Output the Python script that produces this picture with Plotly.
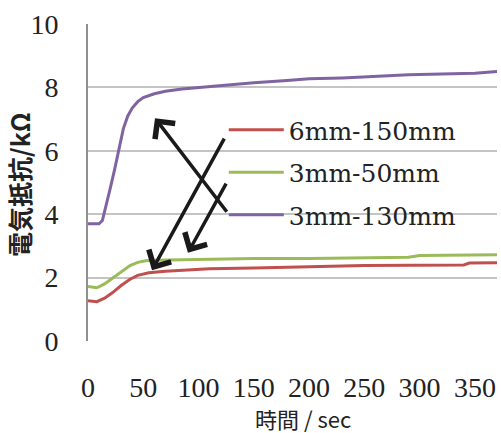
import plotly.graph_objects as go

# ---- data ----
t_red = [0, 8, 15, 22, 30, 38, 45, 55, 70, 90, 110, 150, 170, 250, 340, 345, 370]
v_red = [1.27, 1.24, 1.35, 1.52, 1.75, 1.95, 2.07, 2.15, 2.2, 2.24, 2.28, 2.3, 2.32, 2.38, 2.4, 2.46, 2.47]

t_green = [0, 8, 15, 22, 30, 38, 45, 52, 60, 100, 150, 200, 250, 290, 300, 340, 370]
v_green = [1.72, 1.68, 1.8, 1.98, 2.2, 2.38, 2.48, 2.53, 2.55, 2.57, 2.6, 2.6, 2.62, 2.64, 2.7, 2.71, 2.72]

t_purple = [0, 10, 13, 16, 20, 24, 28, 32, 36, 40, 45, 50, 60, 70, 85, 100, 120, 150, 180,
            200, 230, 260, 290, 320, 350, 370]
v_purple = [3.7, 3.7, 3.8, 4.2, 4.8, 5.4, 6.1, 6.7, 7.1, 7.35, 7.55, 7.68, 7.8, 7.88, 7.95,
            8.0, 8.07, 8.15, 8.22, 8.27, 8.3, 8.35, 8.4, 8.42, 8.45, 8.5]

series_names = ["6mm-150mm", "3mm-50mm", "3mm-130mm"]
series_colors = ["#C0504D", "#9BBB59", "#8064A2"]

x_ticks = [0, 50, 100, 150, 200, 250, 300, 350]
y_ticks = [0, 2, 4, 6, 8, 10]

# arrows: (head_t, head_v, tail_t, tail_v)
arrows = [
    (60.6, 7.03, 126.6, 4.03),
    (57.9, 2.23, 124.0, 6.43),
    (90.4, 2.78, 125.7, 5.01),
]

SERIF_TICK = "Times New Roman, Liberation Serif, Tinos, serif"
SERIF_LEG = "DejaVu Serif, serif"
CJK = "Noto Sans CJK JP, sans-serif"

fig = go.Figure()
for name, col, tx, vy in zip(series_names, series_colors,
                             [t_red, t_green, t_purple], [v_red, v_green, v_purple]):
    fig.add_trace(go.Scatter(x=tx, y=vy, mode="lines", name=name, legendgroup=name,
                             line=dict(color=col, width=3)))

for hx, hy, tx, ty in arrows:
    fig.add_annotation(x=hx, y=hy, ax=tx, ay=ty, xref="x", yref="y", axref="x", ayref="y",
                       showarrow=True, arrowhead=4, arrowsize=1.4, arrowwidth=3.5,
                       arrowcolor="#1a1a1a", text="")

fig.add_annotation(text="時間 / sec", xref="paper", yref="paper",
                   x=(303 - 88) / 409, y=-(418 - 341) / 317, showarrow=False,
                   xanchor="center", yanchor="middle", borderpad=0,
                   font=dict(family=CJK, size=22, color="#222"))
fig.add_annotation(text="電気抵抗/kΩ", xref="paper", yref="paper", textangle=-90,
                   x=(19 - 88) / 409, y=1 - (185 - 24) / 317, showarrow=False,
                   xanchor="center", yanchor="middle", borderpad=0,
                   font=dict(family=CJK, size=25, color="#222", weight=600))

fig.update_layout(
    width=501, height=433,
    margin=dict(l=88, r=4, t=24, b=92, autoexpand=False),
    paper_bgcolor="white", plot_bgcolor="white",
    showlegend=True,
    legend=dict(x=0.332, y=0.738, xanchor="left", yanchor="top",
                bgcolor="rgba(0,0,0,0)", tracegroupgap=7, traceorder="grouped",
                itemwidth=55,
                font=dict(family=SERIF_LEG, size=25, color="#222")),
    xaxis=dict(range=[0, 370], tickvals=x_ticks, ticktext=[str(v) for v in x_ticks],
               showgrid=False, zeroline=False, showline=False, ticks="",
               ticklabelstandoff=27, automargin=False,
               tickfont=dict(family=SERIF_TICK, size=28, color="#222")),
    yaxis=dict(range=[0, 10], tickvals=y_ticks, showgrid=True, gridcolor="#c4c4c4",
               gridwidth=1.5, zeroline=False, showline=True, linecolor="#909090",
               linewidth=2, ticks="", ticklabelstandoff=22, automargin=False,
               tickfont=dict(family=SERIF_TICK, size=28, color="#222")),
)

fig.write_html("out.html", config={"displayModeBar": False},
               post_script="document.body.style.margin='0px';")
